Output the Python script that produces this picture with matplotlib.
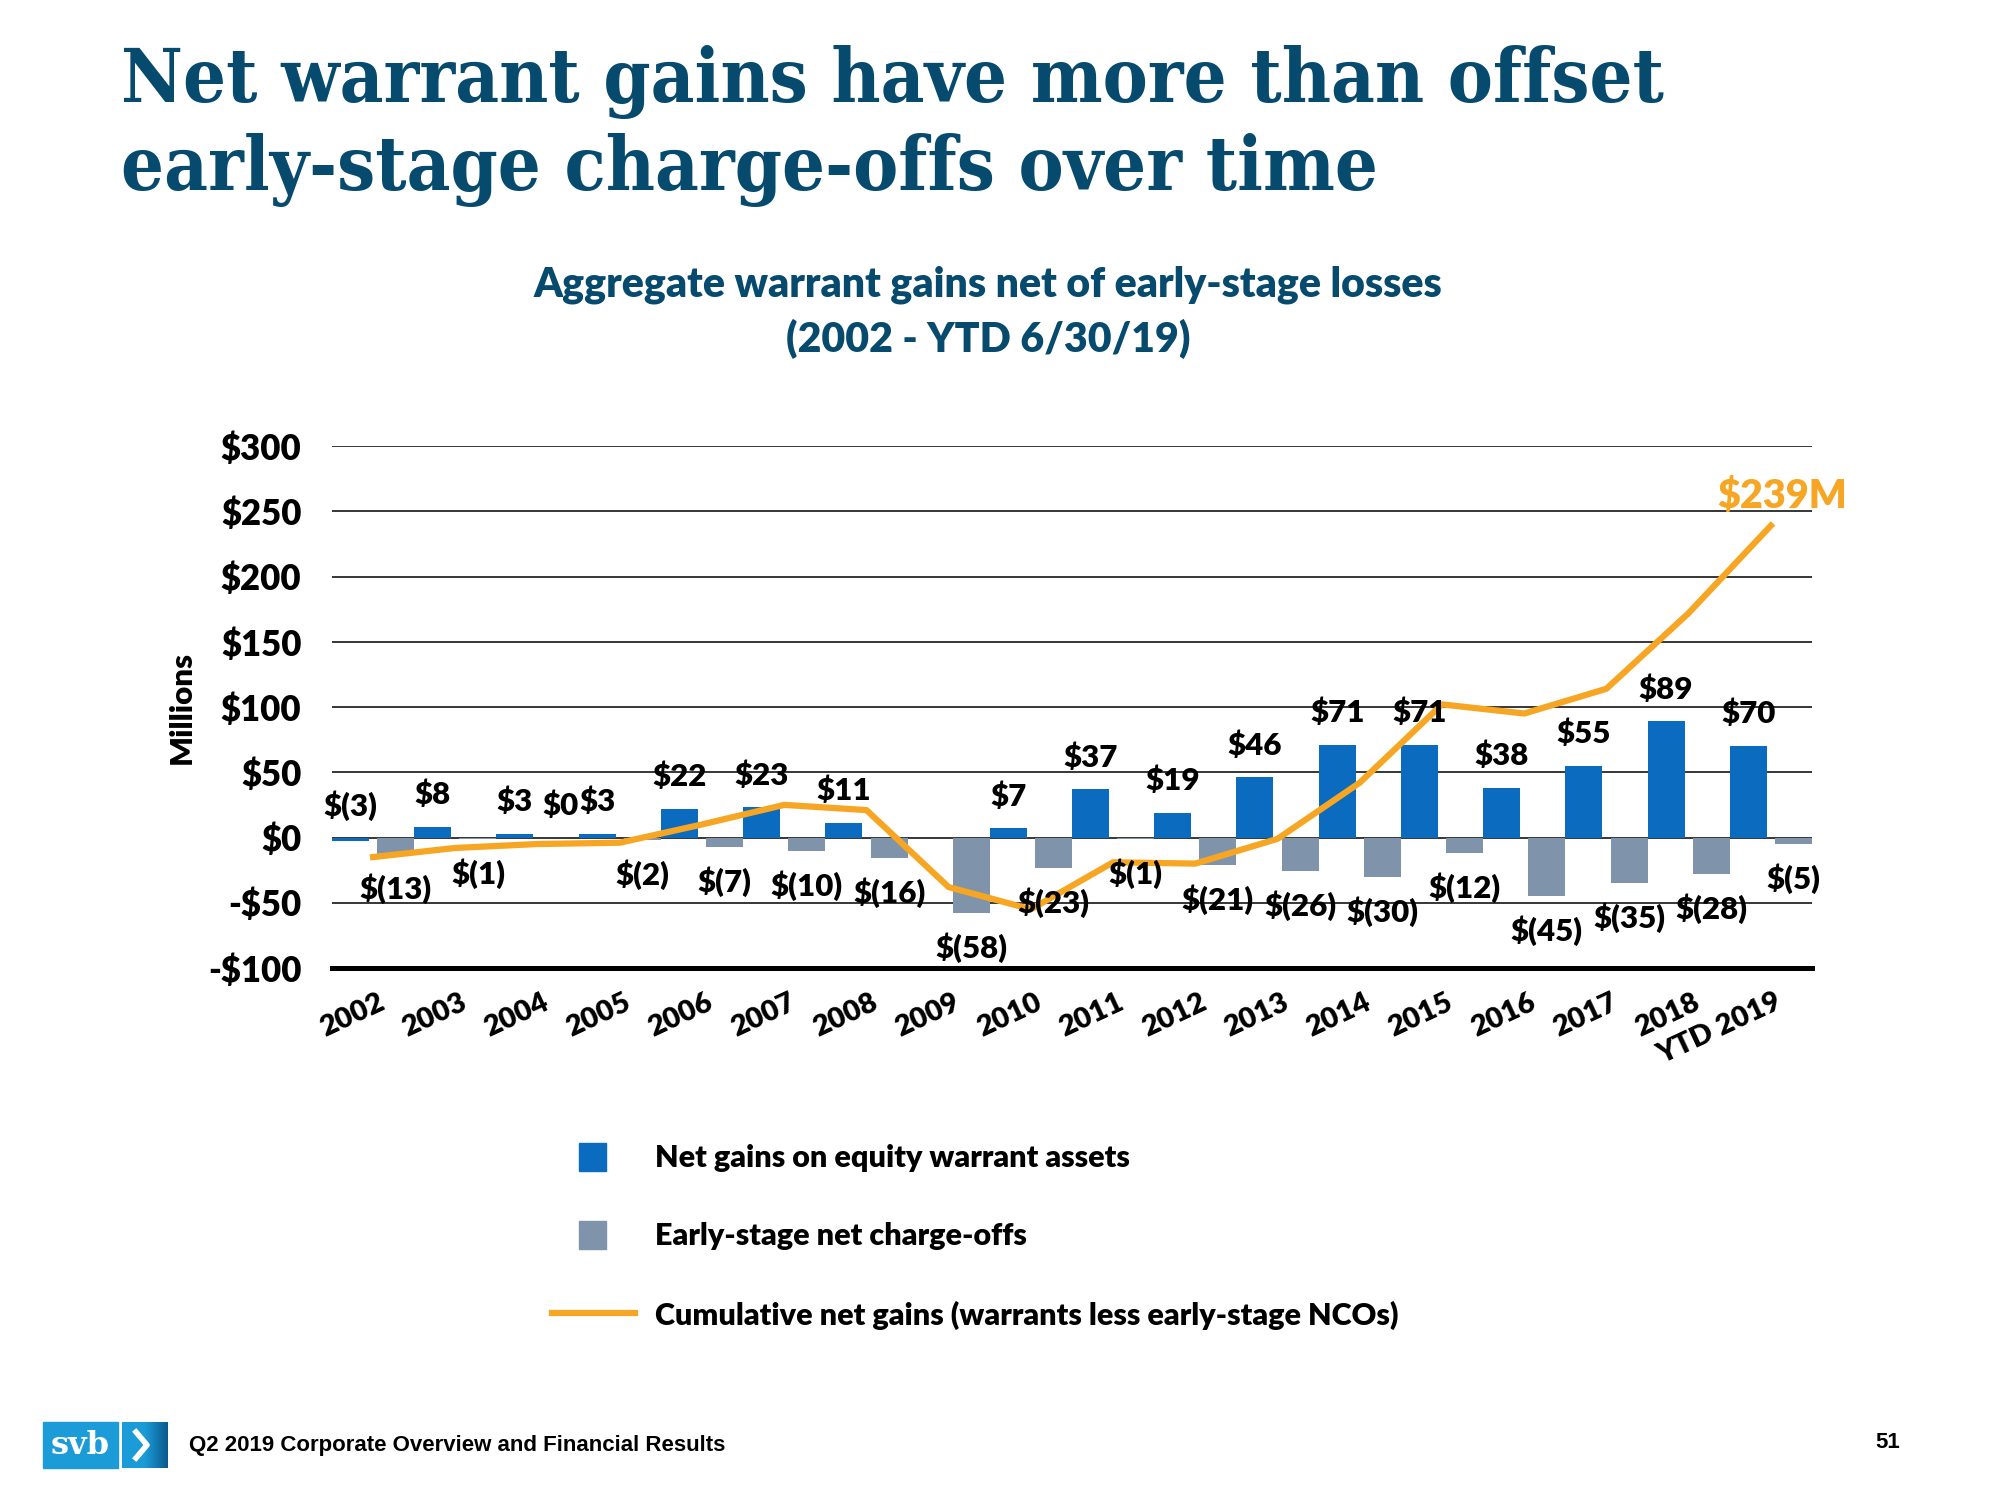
import matplotlib
matplotlib.use('Agg')
import matplotlib.pyplot as plt
import numpy as np
from matplotlib.colors import LinearSegmentedColormap
from matplotlib.lines import Line2D
from matplotlib.patches import Rectangle
from matplotlib.transforms import blended_transform_factory

# ── Data (USD millions) ─────────────────────────────────────────────────────
YEARS = ['2002', '2003', '2004', '2005', '2006', '2007', '2008', '2009', '2010',
         '2011', '2012', '2013', '2014', '2015', '2016', '2017', '2018', 'YTD 2019']
WARRANT_GAINS = [-3, 8, 3, 3, 22, 23, 11, 0, 7, 37, 19, 46, 71, 71, 38, 55, 89, 70]
EARLY_STAGE_NCO = [-13, -1, 0, -2, -7, -10, -16, -58, -23, -1, -21, -26, -30, -12,
                   -45, -35, -28, -5]
CUMULATIVE = [-15, -8, -5, -4, 10, 25, 21, -38, -55, -19, -20, -1, 42, 102, 95,
              114, 172, 239]
Y_TICKS = [-100, -50, 0, 50, 100, 150, 200, 250, 300]
HIDDEN_GAIN_LABELS = ['2009']
FINAL_LABEL = '$239M'

NAVY = '#064a6e'
BLUE = '#0b6bbf'
GREY = '#7f94aa'
ORANGE = '#f6a623'
LABEL_FONT = 'Lato'
WEIGHT = 'heavy'

W, H = 2000, 1500


def fx(px):
    return px / W


def fy(py):
    return 1 - py / H


def money(v):
    return f'$({abs(v)})' if v < 0 else f'${v}'


fig = plt.figure(figsize=(20, 15), dpi=100)

# ── Titles ──────────────────────────────────────────────────────────────────
title_kw = dict(family='DejaVu Serif', fontweight='bold', fontstretch='condensed',
                color=NAVY, va='baseline', fontsize=50)
t1 = fig.text(fx(121), fy(102), 'Net warrant gains have more than offset', **title_kw)
t2 = fig.text(fx(121), fy(190), 'early-stage charge-offs over time', **title_kw)
renderer = fig.canvas.get_renderer()
scale = 1544 / t1.get_window_extent(renderer).width
for t in (t1, t2):
    t.set_fontsize(t.get_fontsize() * scale)

sub_kw = dict(family=LABEL_FONT, fontweight=WEIGHT, color=NAVY, ha='center',
              va='baseline', fontsize=29.5)
fig.text(fx(988), fy(297), 'Aggregate warrant gains net of early-stage losses', **sub_kw)
fig.text(fx(988), fy(352), '(2002 - YTD 6/30/19)', **sub_kw)

# ── Chart ───────────────────────────────────────────────────────────────────
ax = fig.add_axes([fx(332), fy(968), fx(1812) - fx(332), fy(446) - fy(968)])
x = np.arange(len(YEARS))
off, bw = 0.275, 0.45

ax.bar(x - off, WARRANT_GAINS, width=bw, color=BLUE, zorder=2)
ax.bar(x + off, EARLY_STAGE_NCO, width=bw, color=GREY, zorder=2)
ax.plot(x, CUMULATIVE, color=ORANGE, lw=4.5, zorder=4)

lab_kw = dict(textcoords='offset points', ha='center', va='center', fontsize=22.5,
              fontweight=WEIGHT, family=LABEL_FONT, zorder=5)
for i, v in enumerate(WARRANT_GAINS):
    if YEARS[i] in HIDDEN_GAIN_LABELS:
        continue
    ax.annotate(money(v), (x[i] - off, max(v, 0)), xytext=(0, 23), **lab_kw)
for i, v in enumerate(EARLY_STAGE_NCO):
    dy = 23 if v >= 0 else -25
    ax.annotate(money(v), (x[i] + off, v), xytext=(0, dy), **lab_kw)

ax.annotate(FINAL_LABEL, (x[-1], CUMULATIVE[-1]), xytext=(8, 21),
            textcoords='offset points', ha='center', va='center', fontsize=28.5,
            fontweight=WEIGHT, family=LABEL_FONT, color=ORANGE, zorder=5)

ax.set_xlim(-0.5, len(YEARS) - 0.5)
ax.set_ylim(Y_TICKS[0], Y_TICKS[-1])
ax.set_yticks(Y_TICKS)
ax.set_yticklabels([f'-${-t}' if t < 0 else f'${t}' for t in Y_TICKS],
                   family=LABEL_FONT, fontweight=WEIGHT, fontsize=25)
ax.set_xticks([])
ax.yaxis.grid(True, color='black', lw=1.1)
ax.set_axisbelow(True)
ax.tick_params(axis='y', length=0, pad=22)
for side in ('top', 'left', 'right'):
    ax.spines[side].set_visible(False)
ax.spines['bottom'].set_linewidth(3.6)
ax.spines['bottom'].set_color('black')

xt = blended_transform_factory(ax.transData, ax.transAxes)
for i, year in enumerate(YEARS):
    ax.text(x[i] + 0.05, -0.04, year, transform=xt, rotation=25,
            rotation_mode='anchor', ha='right', va='top', fontsize=21,
            fontweight=WEIGHT, family=LABEL_FONT, clip_on=False)

fig.text(fx(182), fy(708), 'Millions', rotation=90, ha='center', va='center',
         fontsize=22.5, fontweight=WEIGHT, family=LABEL_FONT)

# ── Legend ──────────────────────────────────────────────────────────────────
fig.add_artist(Rectangle((fx(579), fy(1171)), 27 / W, 28 / H, color=BLUE,
                         transform=fig.transFigure))
fig.add_artist(Rectangle((fx(579), fy(1249)), 27 / W, 28 / H, color=GREY,
                         transform=fig.transFigure))
fig.add_artist(Line2D([fx(552), fx(635)], [fy(1313), fy(1313)], color=ORANGE,
                      lw=4.5, transform=fig.transFigure))
leg_kw = dict(va='center', fontsize=22, fontweight=WEIGHT, family=LABEL_FONT)
fig.text(fx(655), fy(1158), 'Net gains on equity warrant assets', **leg_kw)
fig.text(fx(655), fy(1236), 'Early-stage net charge-offs', **leg_kw)
fig.text(fx(655), fy(1315), 'Cumulative net gains (warrants less early-stage NCOs)',
         **leg_kw)

# ── Footer ──────────────────────────────────────────────────────────────────
fig.add_artist(Rectangle((fx(43), fy(1468)), 75 / W, 46 / H, color='#1b9bd8',
                         transform=fig.transFigure))
lax = fig.add_axes([fx(122), fy(1468), 46 / W, 46 / H])
lax.imshow(np.linspace(0, 1, 64)[None, :], aspect='auto',
           cmap=LinearSegmentedColormap.from_list('svb', ['#1b9bd8', '#1b9bd8', '#0a5a8c']))
lax.axis('off')
fig.add_artist(Line2D([fx(136), fx(147), fx(136)], [fy(1432), fy(1445), fy(1458)],
                      color='white', lw=4, transform=fig.transFigure, zorder=5))
fig.text(fx(80), fy(1446), 'svb', ha='center', va='center', color='white',
         family='DejaVu Serif', fontweight='bold', fontsize=23)
fig.text(fx(189), fy(1445), 'Q2 2019 Corporate Overview and Financial Results',
         va='center', family='Liberation Sans', fontweight='bold', fontsize=16)
fig.text(fx(1888), fy(1443), '51', ha='center', va='center',
         family='Liberation Sans', fontweight='bold', fontsize=16)

fig.savefig('out.png', dpi=100)
